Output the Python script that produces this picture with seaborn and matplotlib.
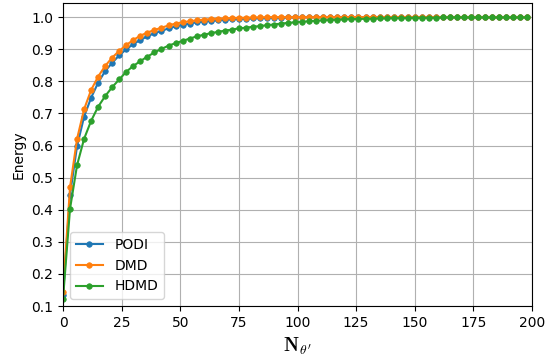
import numpy as np
import pandas as pd
import matplotlib
matplotlib.use("Agg")
import matplotlib.pyplot as plt
import seaborn as sns

x_vals = list(range(0, 199, 3))

podi = [0.134, 0.447, 0.598, 0.690, 0.749, 0.796, 0.832, 0.858, 0.881, 0.900,
        0.916, 0.929, 0.940, 0.950, 0.957, 0.965, 0.971, 0.976, 0.980, 0.984,
        0.986, 0.988, 0.990, 0.992, 0.993, 0.994, 0.995, 0.996, 0.997, 0.997,
        0.998, 0.998, 0.999, 0.999] + [1.0] * 33

dmd = [0.145, 0.470, 0.621, 0.713, 0.773, 0.815, 0.848, 0.874, 0.895, 0.913,
       0.929, 0.942, 0.952, 0.960, 0.967, 0.974, 0.980, 0.984, 0.987, 0.990,
       0.992, 0.994, 0.995, 0.996, 0.997, 0.998, 0.998, 0.999, 0.999] + [1.0] * 38

hdmd = [0.122, 0.403, 0.539, 0.621, 0.677, 0.721, 0.754, 0.782, 0.806, 0.830,
        0.848, 0.863, 0.877, 0.890, 0.901, 0.911, 0.919, 0.926, 0.933, 0.940,
        0.945, 0.950, 0.954, 0.958, 0.961, 0.965, 0.967, 0.970, 0.972, 0.975,
        0.977, 0.980, 0.982, 0.984, 0.986, 0.987, 0.989, 0.990, 0.991, 0.992,
        0.993, 0.994, 0.994, 0.995, 0.995, 0.996, 0.996, 0.997, 0.997, 0.997,
        0.998, 0.998, 0.998, 0.998, 0.999] + [0.999] * 12

series = {"PODI": podi, "DMD": dmd, "HDMD": hdmd}
colors = {"PODI": "#1f77b4", "DMD": "#ff7f0e", "HDMD": "#2ca02c"}

plt.rcParams["font.family"] = ["DejaVu Sans"]
plt.rcParams["mathtext.fontset"] = "cm"
fig = plt.figure(figsize=(5.45, 3.6), dpi=100)
ax = fig.add_axes([63 / 545, 1 - 306 / 360, (532 - 63) / 545, (306 - 3) / 360])

for name, vals in series.items():
    df = pd.DataFrame({"x": x_vals, "y": vals})
    sns.lineplot(data=df, x="x", y="y", ax=ax, color=colors[name], label=name,
                 marker="o", markersize=4, linewidth=1.5,
                 markeredgecolor=colors[name], markeredgewidth=0.5)

ax.set_xlim(0, 200)
ax.set_ylim(0.1, 1.044)
ax.set_xticks([0, 25, 50, 75, 100, 125, 150, 175, 200])
ax.set_yticks([0.1, 0.2, 0.3, 0.4, 0.5, 0.6, 0.7, 0.8, 0.9, 1.0])
ax.grid(True, color="#b0b0b0", linewidth=0.8)
ax.set_axisbelow(True)
ax.set_xlabel(r"$\mathbf{N}_{\theta'}$", fontsize=14)
ax.set_ylabel("Energy", fontsize=10)
ax.tick_params(labelsize=10)
ax.legend(loc="lower left", fontsize=10, framealpha=0.8)

fig.savefig("out.png", dpi=100)
